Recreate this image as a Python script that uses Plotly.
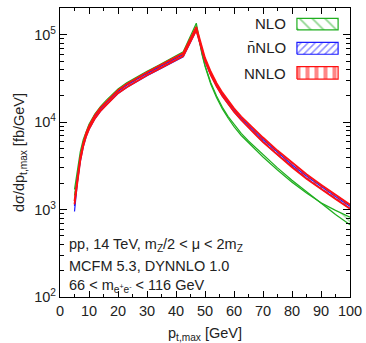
import plotly.graph_objects as go

# ---------------- data ----------------
pt = [5, 6, 7, 8, 9, 10, 12, 14, 16, 18, 20, 23, 26, 30, 34, 38, 42.5, 47, 48, 49,
      50, 52, 54, 56, 58, 60, 62.5, 65, 67.5, 70, 75, 80, 85, 90, 95, 100]

# NLO band edges (the two scale-variation curves)
nlo_a = [1.7e3, 3.0e3, 4.6e3, 6.3e3, 7.9e3, 9.5e3, 1.24e4, 1.52e4, 1.79e4, 2.1e4, 2.4e4,
         2.82e4, 3.22e4, 3.82e4, 4.48e4, 5.25e4, 6.4e4, 1.36e5, 8.7e4, 6.1e4, 4.5e4,
         2.83e4, 1.99e4, 1.48e4, 1.16e4, 9.4e3, 7.45e3, 6.1e3, 5.1e3, 4.22e3, 3.0e3,
         2.17e3, 1.6e3, 1.19e3, 8.8e2, 6.7e2]
nlo_b = [1.45e3, 2.5e3, 4.0e3, 5.7e3, 7.3e3, 8.8e3, 1.16e4, 1.42e4, 1.68e4, 1.97e4, 2.26e4,
         2.66e4, 3.05e4, 3.62e4, 4.25e4, 4.98e4, 6.0e4, 1.25e5, 8.4e4, 5.9e4, 4.35e4,
         2.72e4, 1.91e4, 1.42e4, 1.11e4, 8.9e3, 7.05e3, 5.8e3, 4.83e3, 4.0e3, 2.84e3,
         2.06e3, 1.55e3, 1.2e3, 9.8e2, 8.2e2]

# nNLO band edges
nnlo_bar_lo = [9.5e2, 2.05e3, 3.55e3, 5.2e3, 6.8e3, 8.25e3, 1.09e4, 1.34e4, 1.58e4, 1.85e4,
               2.13e4, 2.5e4, 2.87e4, 3.4e4, 4.0e4, 4.68e4, 5.6e4, 1.12e5, 8.45e4, 6.42e4,
               4.99e4, 3.45e4, 2.56e4, 1.99e4, 1.6e4, 1.31e4, 1.055e4, 8.65e3, 7.22e3,
               5.98e3, 4.25e3, 3.08e3, 2.28e3, 1.73e3, 1.33e3, 1.03e3]
nnlo_bar_hi = [1.1e3, 2.3e3, 3.82e3, 5.55e3, 7.25e3, 8.75e3, 1.16e4, 1.42e4, 1.67e4, 1.96e4,
               2.25e4, 2.65e4, 3.04e4, 3.6e4, 4.24e4, 4.97e4, 5.95e4, 1.18e5, 8.95e4, 6.8e4,
               5.28e4, 3.65e4, 2.7e4, 2.1e4, 1.69e4, 1.39e4, 1.115e4, 9.15e3, 7.65e3,
               6.34e3, 4.5e3, 3.26e3, 2.42e3, 1.83e3, 1.41e3, 1.09e3]

# NNLO band edges
nnlo_lo = [1.15e3, 2.2e3, 3.65e3, 5.3e3, 6.9e3, 8.35e3, 1.1e4, 1.35e4, 1.59e4, 1.87e4,
           2.15e4, 2.52e4, 2.9e4, 3.45e4, 4.05e4, 4.75e4, 5.72e4, 1.13e5, 8.55e4, 6.5e4,
           5.05e4, 3.48e4, 2.58e4, 2.0e4, 1.61e4, 1.32e4, 1.06e4, 8.6e3, 7.15e3, 5.92e3,
           4.2e3, 3.05e3, 2.26e3, 1.71e3, 1.32e3, 1.02e3]
nnlo_hi = [1.25e3, 2.4e3, 3.95e3, 5.7e3, 7.5e3, 9.05e3, 1.2e4, 1.47e4, 1.73e4, 2.03e4,
           2.33e4, 2.74e4, 3.14e4, 3.73e4, 4.39e4, 5.15e4, 6.2e4, 1.23e5, 9.25e4, 7.0e4,
           5.45e4, 3.78e4, 2.8e4, 2.18e4, 1.75e4, 1.44e4, 1.16e4, 9.6e3, 8.05e3, 6.68e3,
           4.74e3, 3.43e3, 2.54e3, 1.93e3, 1.48e3, 1.14e3]

series_names = ["NLO", "n\u0304NLO", "NNLO"]
x_ticks = [0, 10, 20, 30, 40, 50, 60, 70, 80, 90, 100]
y_ticks = [1e2, 1e3, 1e4, 1e5]
y_ticktext = ["10<sup>2</sup>", "10<sup>3</sup>", "10<sup>4</sup>", "10<sup>5</sup>"]
y_minor = [m * 10 ** e for e in (2, 3, 4, 5) for m in range(2, 10)]

GREEN = "#1fae1f"
BLUE = "#1a1aff"
RED = "#ff1010"
FONT = "Liberation Sans, Arial, sans-serif"

fig = go.Figure()


def band(lo, hi, color, width, shape, size, solidity, bg):
    fig.add_trace(go.Scatter(x=pt, y=lo, mode="lines", line=dict(color=color, width=width),
                             showlegend=False, hoverinfo="skip"))
    fig.add_trace(go.Scatter(x=pt, y=hi, mode="lines", line=dict(color=color, width=width),
                             fill="tonexty", fillcolor="rgba(0,0,0,0)",
                             fillpattern=dict(shape=shape, fgcolor=color, bgcolor=bg,
                                              size=size, solidity=solidity),
                             showlegend=False, hoverinfo="skip"))


band(nlo_b, nlo_a, GREEN, 1.2, "\\", 6, 0.2, "rgba(255,255,255,0)")
band(nnlo_bar_lo, nnlo_bar_hi, BLUE, 1.2, "/", 4, 0.3, "white")
band(nnlo_lo, nnlo_hi, RED, 1.8, "|", 6, 0.5, "rgba(255,255,255,0)")

# legend swatches (overlay axes in [0,1] fraction space)
legend_specs = [
    (series_names[0], GREEN, "\\", 9, 0.2, 0.964, 0.924, 0.945),
    (series_names[1], BLUE, "/", 5, 0.3, 0.881, 0.840, 0.862),
    (series_names[2], RED, "|", 9, 0.45, 0.797, 0.754, 0.775),
]
bx0, bx1 = 0.817, 0.959
for name, col, shp, sz, sol, ytop, ybot, ytext in legend_specs:
    fig.add_trace(go.Scatter(x=[bx0, bx1, bx1, bx0, bx0], y=[ybot, ybot, ytop, ytop, ybot],
                             xaxis="x2", yaxis="y2", mode="lines",
                             line=dict(color=col, width=1.2), fill="toself",
                             fillcolor="rgba(0,0,0,0)",
                             fillpattern=dict(shape=shp, fgcolor=col, bgcolor="white",
                                              size=sz, solidity=sol),
                             showlegend=False, hoverinfo="skip"))
    fig.add_annotation(xref="paper", yref="paper", x=0.786, y=ytext, text=name,
                       showarrow=False, xanchor="right", yanchor="middle",
                       font=dict(family=FONT, size=15, color="#222"))

notes = ["pp, 14 TeV, m<sub>Z</sub>/2 &lt; μ &lt; 2m<sub>Z</sub>",
         "MCFM 5.3, DYNNLO 1.0",
         "66 &lt; m<sub>e<sup>+</sup>e<sup>-</sup></sub> &lt; 116 GeV"]
for txt, yy in zip(notes, [0.18, 0.107, 0.038]):
    fig.add_annotation(xref="paper", yref="paper", x=0.025, y=yy, text=txt,
                       showarrow=False, xanchor="left", yanchor="middle",
                       font=dict(family=FONT, size=14.5, color="#222"))

fig.update_layout(
    width=366, height=343,
    margin=dict(l=60, r=16, t=8, b=46),
    paper_bgcolor="white", plot_bgcolor="white",
    font=dict(family=FONT, size=14.5, color="#222"),
    showlegend=False,
    xaxis=dict(range=[0, 100], tickvals=x_ticks, ticks="inside", ticklen=6, tickwidth=1,
               tickcolor="black", mirror="ticks", showline=True, linecolor="black",
               linewidth=1.2, showgrid=False, zeroline=False, automargin=False,
               minor=dict(dtick=5, tick0=0, ticks="inside", ticklen=3, tickcolor="black"),
               title=dict(text="p<sub>t,max</sub> [GeV]", standoff=12,
                          font=dict(family=FONT, size=14.5))),
    yaxis=dict(type="log", range=[2, 5.307], tickvals=y_ticks, ticktext=y_ticktext,
               ticks="inside", ticklen=7, tickwidth=1, tickcolor="black", mirror="ticks",
               showline=True, linecolor="black", linewidth=1.2, showgrid=False,
               zeroline=False, automargin=False,
               minor=dict(tickvals=y_minor, ticks="inside", ticklen=4, tickcolor="black"),
               title=dict(text="dσ/dp<sub>t,max</sub> [fb/GeV]", standoff=6,
                          font=dict(family=FONT, size=14.5))),
    xaxis2=dict(overlaying="x", range=[0, 1], visible=False, fixedrange=True),
    yaxis2=dict(overlaying="y", range=[0, 1], visible=False, fixedrange=True),
)

fig.write_html("out.html")
